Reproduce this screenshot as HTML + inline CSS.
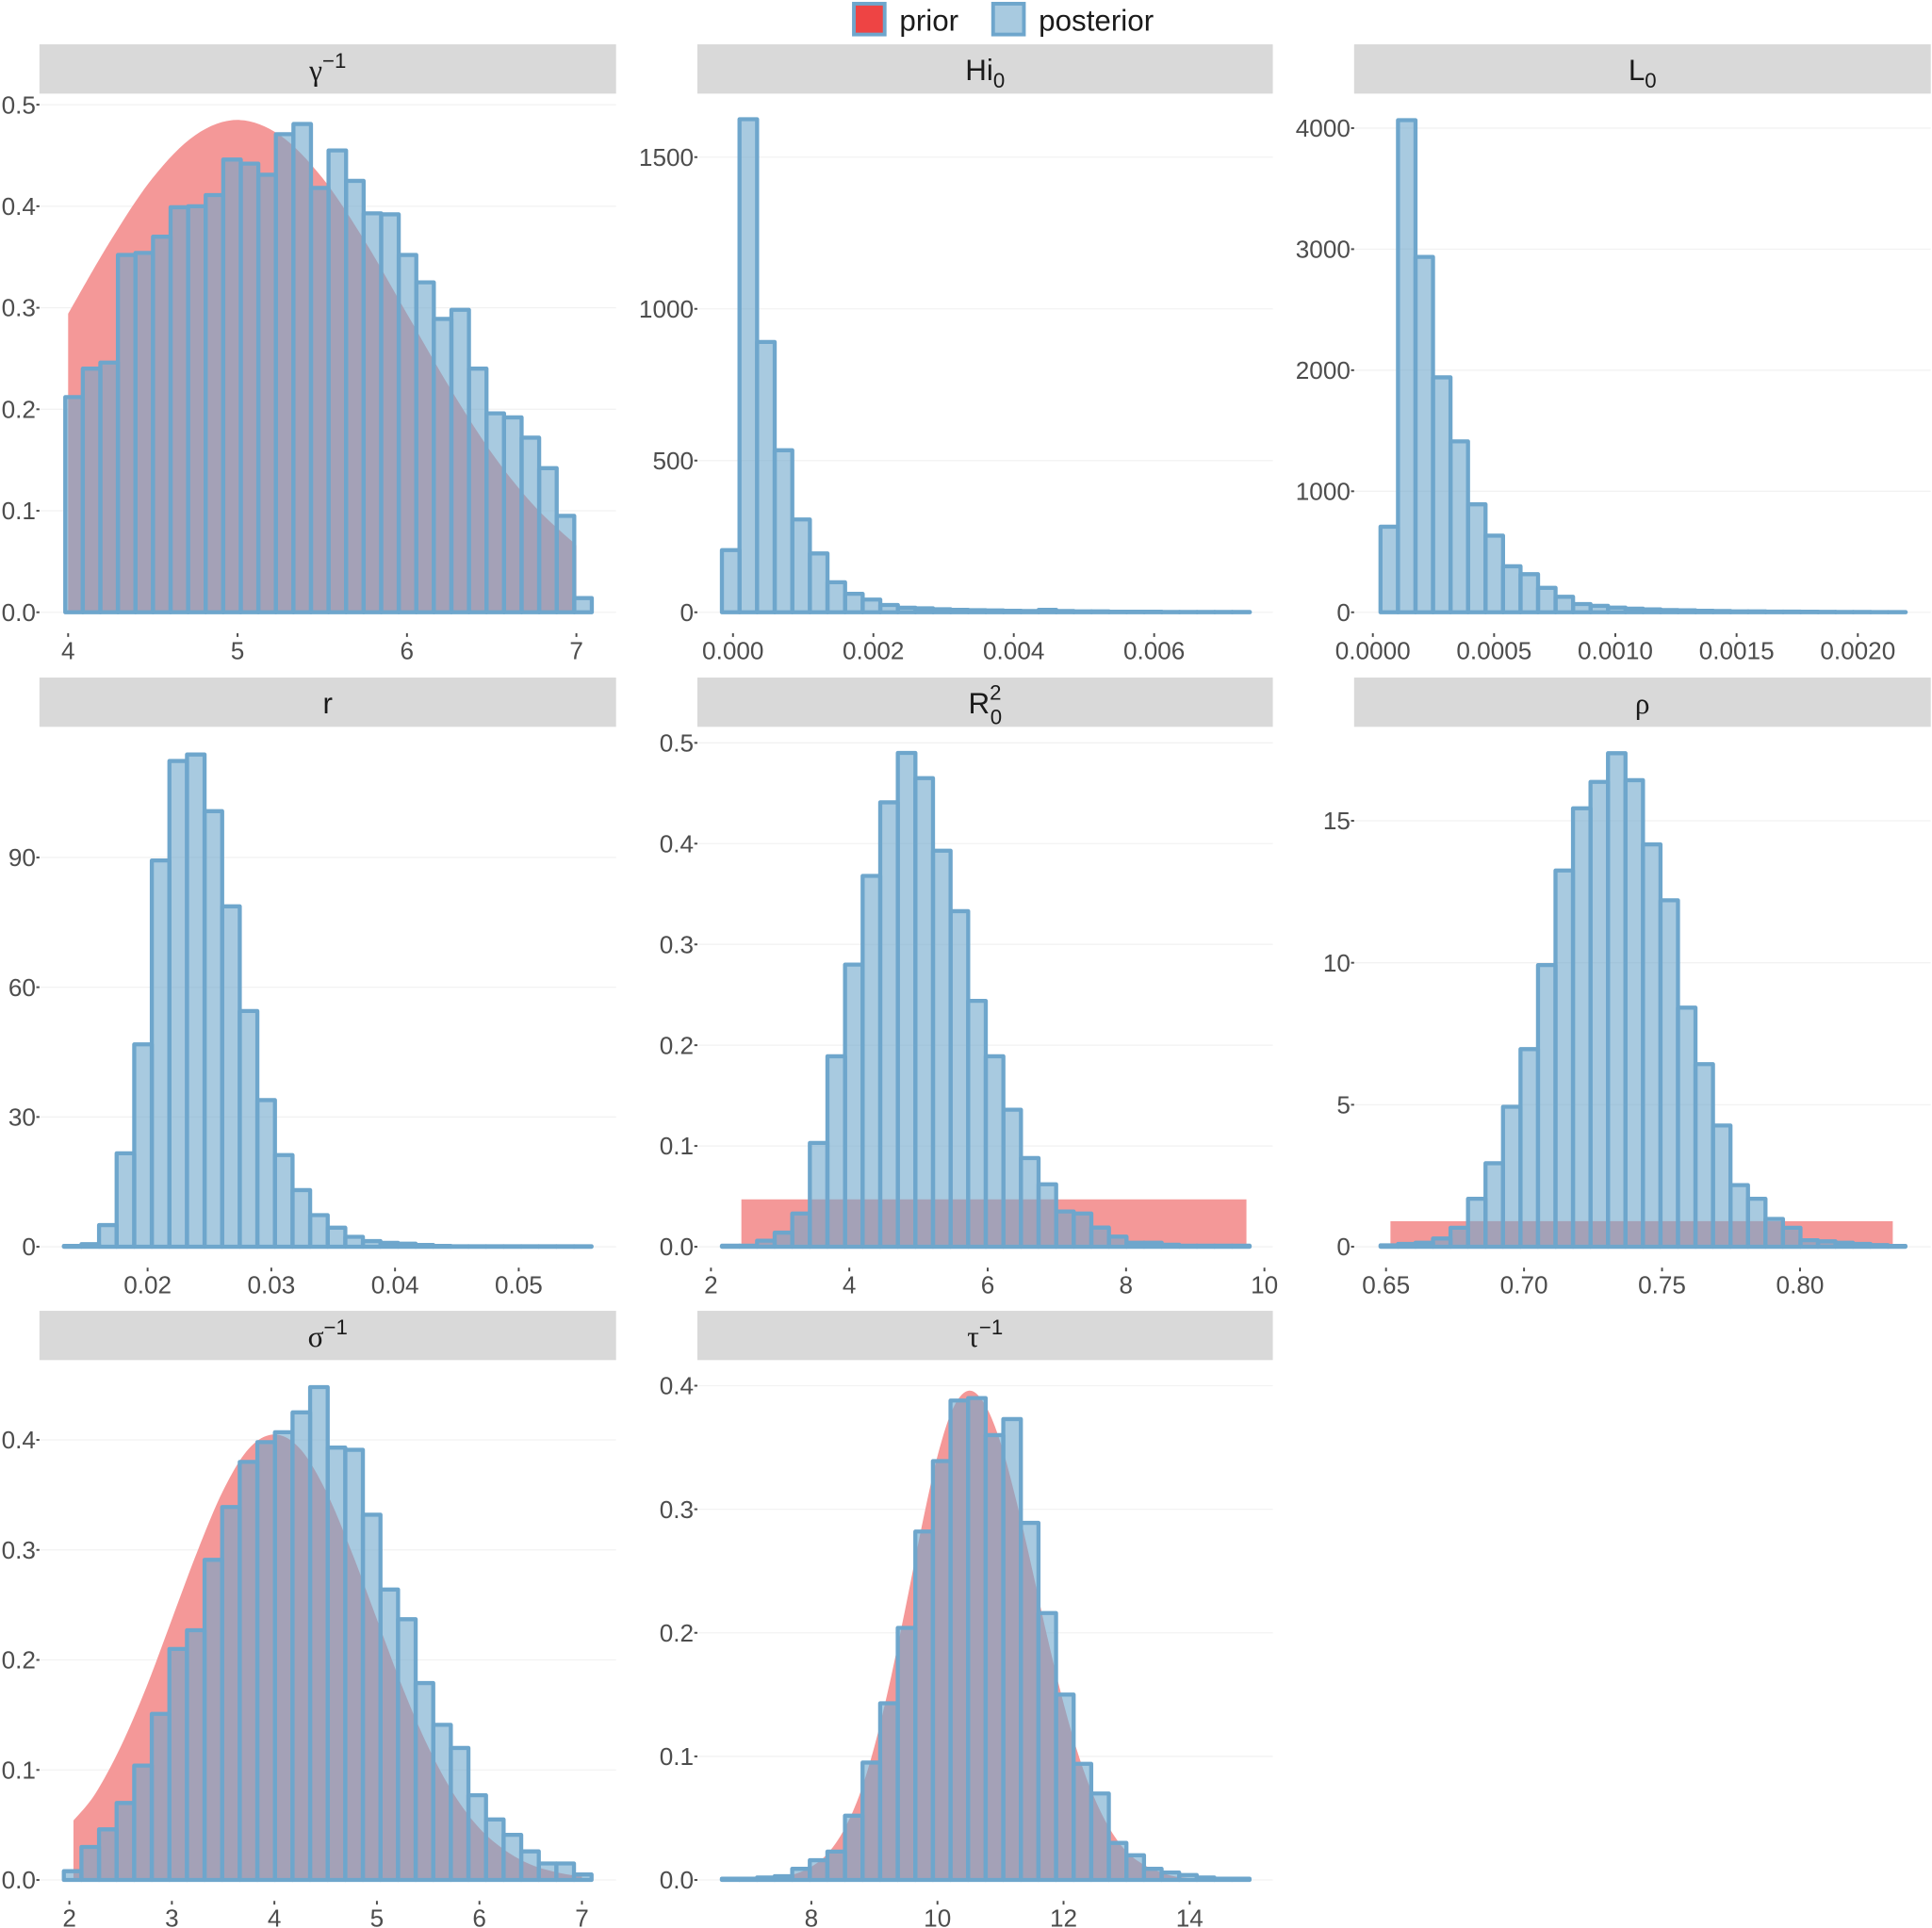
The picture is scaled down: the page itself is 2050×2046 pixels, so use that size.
<!DOCTYPE html>
<html><head><meta charset="utf-8">
<style>
html,body{margin:0;padding:0;background:#fff;}
svg{display:block;font-family:"Liberation Sans",sans-serif;}
</style></head>
<body>
<svg id="chart" width="2050" height="2046" viewBox="0 0 1568 1565" preserveAspectRatio="none" xmlns="http://www.w3.org/2000/svg">
<g id="legend">
  <rect x="693" y="3" width="25" height="25" fill="#ee4444" stroke="rgb(110,166,204)" stroke-width="3"/>
  <text x="730" y="25" font-size="24" fill="#1a1a1a">prior</text>
  <rect x="806" y="3" width="25" height="25" fill="rgb(168,202,224)" stroke="rgb(110,166,204)" stroke-width="3"/>
  <text x="843" y="25" font-size="24" fill="#1a1a1a">posterior</text>
</g>
</svg>
<script>
// ---- data arrays ----
const gammaBins=[0.212,0.240,0.246,0.352,0.354,0.370,0.399,0.400,0.411,0.446,0.442,0.431,0.471,0.481,0.418,0.455,0.425,0.393,0.392,0.352,0.325,0.289,0.298,0.240,0.196,0.192,0.172,0.142,0.095,0.014];
const gammaPriorX=[4,4.25,4.5,4.75,5,5.25,5.5,5.75,6,6.25,6.5,6.75,7];
const gammaPriorY=[0.294,0.366,0.428,0.470,0.485,0.470,0.428,0.366,0.294,0.222,0.157,0.105,0.066];
const hiBins=[205,1625,891,534,306,194,99,61,42,24,15,13,10,8,7,6,5,4,8,4,3,3,2,2,2,1,1,1,1,1];
const lBins=[707,4066,2936,1941,1412,892,633,380,315,202,128,68,53,39,30,24,18,16,12,10,8,8,6,6,5,4,3,3,2,2];
const rBins=[0.2,0.6,5,21.6,46.8,89.3,112.3,113.8,100.7,78.7,54.5,33.9,21.2,13.1,7.3,4.4,2.3,1.3,0.9,0.7,0.4,0.2,0.1,0.1,0.1,0.1,0.1,0.1,0.1,0.1];
const r0Bins=[0.001,0.001,0.006,0.014,0.033,0.103,0.189,0.280,0.368,0.441,0.490,0.465,0.393,0.333,0.244,0.189,0.136,0.088,0.062,0.035,0.033,0.019,0.010,0.004,0.004,0.002,0.001,0.001,0.001,0.001];
const r0PriorX=[2.44,9.74];
const r0PriorY=[0.047,0.047];
const rhoBins=[0.05,0.1,0.14,0.29,0.67,1.69,2.94,4.93,6.96,9.92,13.25,15.44,16.37,17.38,16.43,14.17,12.2,8.42,6.43,4.27,2.17,1.69,0.98,0.67,0.23,0.19,0.14,0.1,0.06,0.03];
const rhoPriorX=[0.6516,0.8336];
const rhoPriorY=[0.9,0.9];
const sigmaBins=[0.008,0.030,0.046,0.070,0.104,0.151,0.210,0.227,0.291,0.339,0.380,0.398,0.407,0.425,0.448,0.393,0.391,0.332,0.264,0.237,0.179,0.141,0.120,0.077,0.055,0.041,0.026,0.015,0.015,0.005];
const sigmaPriorX=[2.04,2.25,2.5,2.75,3,3.25,3.5,3.75,4,4.25,4.5,4.75,5,5.25,5.5,5.75,6,6.25,6.5,6.75,7];
const sigmaPriorY=[0.054,0.078,0.121,0.175,0.237,0.299,0.354,0.392,0.405,0.392,0.354,0.299,0.237,0.175,0.121,0.078,0.047,0.027,0.014,0.007,0.003];
const tauBins=[0.001,0.001,0.002,0.003,0.009,0.016,0.023,0.052,0.095,0.143,0.204,0.282,0.339,0.388,0.390,0.360,0.373,0.289,0.216,0.150,0.094,0.070,0.030,0.020,0.009,0.006,0.004,0.002,0.001,0.001];
const tauPriorX=[7,7.25,7.5,7.75,8,8.25,8.5,8.75,9,9.25,9.5,9.75,10,10.25,10.5,10.75,11,11.25,11.5,11.75,12,12.25,12.5,12.75,13,13.25,13.5,13.75,14];
const tauPriorY=[0.0003,0.0009,0.0022,0.005,0.0107,0.021,0.039,0.067,0.108,0.161,0.222,0.286,0.343,0.382,0.396,0.385,0.354,0.307,0.252,0.195,0.143,0.099,0.065,0.040,0.023,0.013,0.007,0.003,0.0015];

const gammaXTicks=[4,5,6,7], gammaXLabels=["4","5","6","7"];
const gammaYTicks=[0,0.1,0.2,0.3,0.4,0.5], gammaYLabels=["0.0","0.1","0.2","0.3","0.4","0.5"];
const hiXTicks=[0,0.002,0.004,0.006], hiXLabels=["0.000","0.002","0.004","0.006"];
const hiYTicks=[0,500,1000,1500], hiYLabels=["0","500","1000","1500"];
const lXTicks=[0,0.0005,0.001,0.0015,0.002], lXLabels=["0.0000","0.0005","0.0010","0.0015","0.0020"];
const lYTicks=[0,1000,2000,3000,4000], lYLabels=["0","1000","2000","3000","4000"];
const rXTicks=[0.02,0.03,0.04,0.05], rXLabels=["0.02","0.03","0.04","0.05"];
const rYTicks=[0,30,60,90], rYLabels=["0","30","60","90"];
const r0XTicks=[2,4,6,8,10], r0XLabels=["2","4","6","8","10"];
const r0YTicks=[0,0.1,0.2,0.3,0.4,0.5], r0YLabels=["0.0","0.1","0.2","0.3","0.4","0.5"];
const rhoXTicks=[0.65,0.7,0.75,0.8], rhoXLabels=["0.65","0.70","0.75","0.80"];
const rhoYTicks=[0,5,10,15], rhoYLabels=["0","5","10","15"];
const sigmaXTicks=[2,3,4,5,6,7], sigmaXLabels=["2","3","4","5","6","7"];
const sigmaYTicks=[0,0.1,0.2,0.3,0.4], sigmaYLabels=["0.0","0.1","0.2","0.3","0.4"];
const tauXTicks=[8,10,12,14], tauXLabels=["8","10","12","14"];
const tauYTicks=[0,0.1,0.2,0.3,0.4], tauYLabels=["0.0","0.1","0.2","0.3","0.4"];

// ---- layout ----
const NS="http://www.w3.org/2000/svg";
const svg=document.getElementById('chart');
function mk(tag,attrs,parent){const e=document.createElementNS(NS,tag);for(const k in attrs)e.setAttribute(k,attrs[k]);(parent||svg).appendChild(e);return e;}

const panels=[
 {id:'gamma',title:['γ','−1','sup'],col:0,row:0,x0:4,xp:55.3,xs:137.5,ys:824,bs:3.983,bw:0.1036,bins:gammaBins,px:gammaPriorX,py:gammaPriorY,xt:gammaXTicks,xl:gammaXLabels,yt:gammaYTicks,yl:gammaYLabels},
 {id:'hi0',title:['Hi','0','sub'],col:1,row:0,x0:0,xp:594.9,xs:56970,ys:0.2463,bs:-0.000158,bw:0.0002507,bins:hiBins,xt:hiXTicks,xl:hiXLabels,yt:hiYTicks,yl:hiYLabels},
 {id:'l0',title:['L','0','sub'],col:2,row:0,x0:0,xp:1114.2,xs:196800,ys:0.09825,bs:0.0000315,bw:0.0000722,bins:lBins,xt:lXTicks,xl:lXLabels,yt:lYTicks,yl:lYLabels},
 {id:'r',title:['r','',''],col:0,row:1,x0:0.02,xp:119.8,xs:10040,ys:3.511,bs:0.01323,bw:0.001422,bins:rBins,xt:rXTicks,xl:rXLabels,yt:rYTicks,yl:rYLabels},
 {id:'r0sq',title:['R','2','both'],col:1,row:1,x0:2,xp:577,xs:56.15,ys:818,bs:2.158,bw:0.2543,bins:r0Bins,px:r0PriorX,py:r0PriorY,rect:true,xt:r0XTicks,xl:r0XLabels,yt:r0YTicks,yl:r0YLabels},
 {id:'rho',title:['ρ','',''],col:2,row:1,x0:0.65,xp:1124.9,xs:2240,ys:23.05,bs:0.648,bw:0.00634,bins:rhoBins,px:rhoPriorX,py:rhoPriorY,rect:true,xt:rhoXTicks,xl:rhoXLabels,yt:rhoYTicks,yl:rhoYLabels},
 {id:'sigma',title:['σ','−1','sup'],col:0,row:2,x0:2,xp:56.3,xs:83.2,ys:893,bs:1.946,bw:0.1716,bins:sigmaBins,px:sigmaPriorX,py:sigmaPriorY,xt:sigmaXTicks,xl:sigmaXLabels,yt:sigmaYTicks,yl:sigmaYLabels},
 {id:'tau',title:['τ','−1','sup'],col:1,row:2,x0:8,xp:658.5,xs:51.17,ys:1003,bs:6.58,bw:0.279,bins:tauBins,px:tauPriorX,py:tauPriorY,xt:tauXTicks,xl:tauXLabels,yt:tauYTicks,yl:tauYLabels}
];
const colX=[[32,500],[566,1033],[1099,1567]];
const stripY=[36,550,1064];
const zeroY=[497,1012,1526];

function smoothPath(pts){
  let d='M'+pts[0][0]+','+pts[0][1];
  for(let i=0;i<pts.length-1;i++){
    const p0=pts[Math.max(0,i-1)],p1=pts[i],p2=pts[i+1],p3=pts[Math.min(pts.length-1,i+2)];
    const c1x=p1[0]+(p2[0]-p0[0])/6,c1y=p1[1]+(p2[1]-p0[1])/6;
    const c2x=p2[0]-(p3[0]-p1[0])/6,c2y=p2[1]-(p3[1]-p1[1])/6;
    d+=' C'+c1x+','+c1y+' '+c2x+','+c2y+' '+p2[0]+','+p2[1];
  }
  return d;
}

panels.forEach(p=>{
  const [sx0,sx1]=colX[p.col];
  const sy=stripY[p.row];
  const y0=zeroY[p.row];
  const X=v=>p.xp+(v-p.x0)*p.xs;
  const Y=v=>y0-v*p.ys;
  const g=mk('g',{});
  
  
  // strip
  const st=mk('rect',{x:sx0,y:sy,width:sx1-sx0,height:40,fill:'#d9d9d9'},g);
  
  
  const tt=mk('text',{x:(sx0+sx1)/2,y:sy+29,'font-size':24,'text-anchor':'middle',fill:'#1a1a1a'},g);
  
  
  const fam=(p.title[0]==='γ'||p.title[0]==='σ'||p.title[0]==='τ'||p.title[0]==='ρ')?'"Liberation Serif",serif':'"Liberation Sans",sans-serif';
  const m=mk('tspan',{'font-family':fam},tt); m.textContent=p.title[0];
  if(p.title[2]==='sup'){const s=mk('tspan',{dy:-10,'font-size':17},tt);s.textContent=p.title[1];}
  else if(p.title[2]==='sub'){const s=mk('tspan',{dy:6,'font-size':17},tt);s.textContent=p.title[1];}
  else if(p.title[2]==='both'){
    const s1=mk('tspan',{dy:-11,'font-size':17},tt);s1.textContent='2';
    const s2=mk('tspan',{dx:-9,dy:20,'font-size':17},tt);s2.textContent='0';
  }
  // gridlines
  p.yt.forEach(v=>{const l=mk('line',{x1:sx0,x2:sx1,y1:Y(v),y2:Y(v),stroke:'#f2f2f2','stroke-width':1},g);
    });
  // prior
  if(p.px){
    let pr;
    if(p.rect){
      pr=mk('rect',{x:X(p.px[0]),y:Y(p.py[0]),width:X(p.px[1])-X(p.px[0]),height:y0-Y(p.py[0]),fill:'#f49898'},g);
    }else{
      const pts=p.px.map((v,i)=>[X(v),Y(p.py[i])]);
      let d=smoothPath(pts);
      d+=' L'+X(p.px[p.px.length-1])+','+y0+' L'+X(p.px[0])+','+y0+' Z';
      pr=mk('path',{d:d,fill:'#f49898'},g);
    }
    
    
  }
  // bars
  p.bins.forEach((v,i)=>{
    const xa=X(p.bs+i*p.bw),xb=X(p.bs+(i+1)*p.bw);
    const b=mk('rect',{x:xa,y:Y(v),width:xb-xa,height:Math.max(0,y0-Y(v)),fill:'rgba(110,166,204,0.6)',stroke:'rgb(110,166,204)','stroke-width':3.3,'stroke-linejoin':'round'},g);
    
    
  });
  // y ticks
  p.yt.forEach((v,i)=>{
    const t=mk('text',{x:sx0-3,y:Y(v)+7,'font-size':20,'text-anchor':'end',fill:'#4d4d4d'},g);
    
    
    t.textContent=p.yl[i];
    const tk=mk('line',{x1:sx0-2.5,x2:sx0,y1:Y(v),y2:Y(v),stroke:'#4d4d4d','stroke-width':1.5},g);
    
    
  });
  // x ticks
  p.xt.forEach((v,i)=>{
    const t=mk('text',{x:X(v),y:y0+38,'font-size':20,'text-anchor':'middle',fill:'#4d4d4d'},g);
    
    
    t.textContent=p.xl[i];
    const tk=mk('line',{x1:X(v),x2:X(v),y1:y0+17,y2:y0+20,stroke:'#4d4d4d','stroke-width':1.5},g);
    
    
  });
});
</script>
</body></html>
